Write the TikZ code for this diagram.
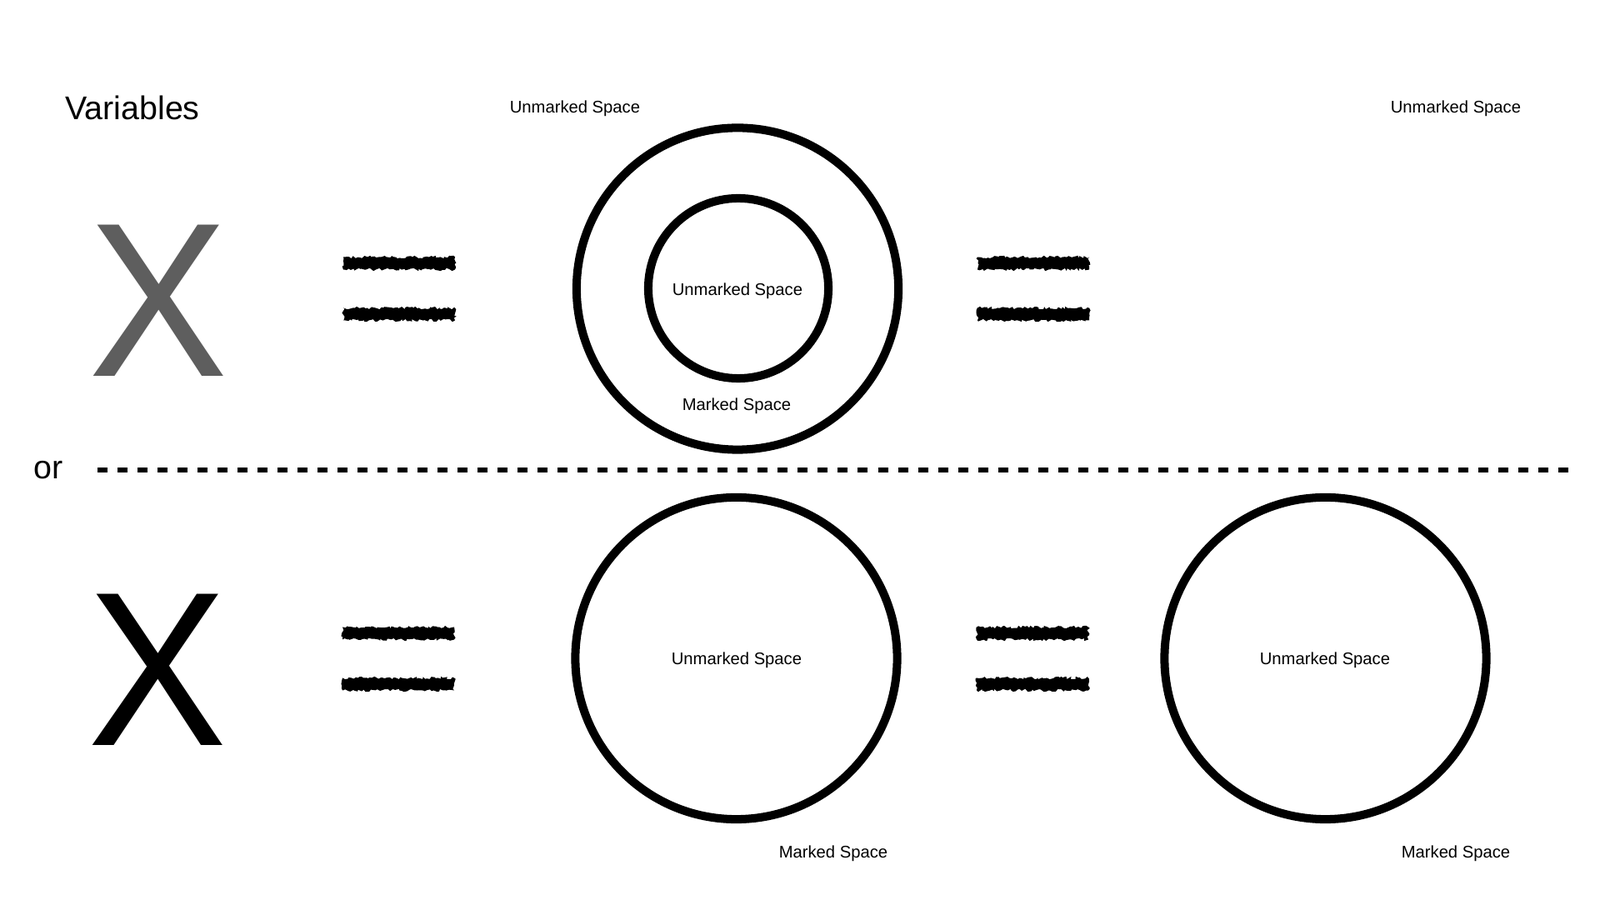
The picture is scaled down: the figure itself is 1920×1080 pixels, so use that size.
\documentclass[tikz,border=0pt]{standalone}
\usepackage{fontspec}
\setmainfont{Liberation Sans}
\usetikzlibrary{decorations.pathmorphing}
\tikzset{
  x=0.01cm, y=-0.01cm, % one unit is one pixel of the slide
  ring/.style={draw, circle, line width=2.85pt, inner sep=0pt}, % the drawn circles
  label/.style={font=\fontsize{5.75}{7}\selectfont, inner sep=0pt}, % small space names
  big/.style={font=\fontsize{11.2}{13}\selectfont, inner sep=0pt},
  bigX/.style={font=\fontsize{75}{75}\selectfont, inner sep=0pt, xscale=0.95},
  roughEq/.pic={
    % two hand drawn bars
    \foreach \dy in {-30.5, 30.5}
      \fill[decorate, decoration={random steps, segment length=0.7pt, amplitude=0.5pt}]
        (-67,\dy-7.5) rectangle (67,\dy+7.5);
  },
}
\begin{document}
\begin{tikzpicture}
  \useasboundingbox (0,0) rectangle (1920,1080);

  \node[big] (title) at (159,129) {Variables};
  \node[big] (or) at (58.5,564) {or};
  \node[bigX, text=black!63] (xTop) at (190.5,361) {X};
  \node[bigX] (xBottom) at (189.5,804) {X};

  % upper line: X = nested circles = nothing
  \node[label] (unTopLeft) at (690,130.5) {Unmarked Space};
  \node[label] (unTopRight) at (1747,130.5) {Unmarked Space};
  \node[ring, minimum size=3.86cm] (outerTop) at (885,346.5) {};
  \node[ring, minimum size=2.16cm, label] (innerTop) at (886,346) {};
  \node[label] (unInner) at (885,349.5) {Unmarked Space};
  \node[label] (markTop) at (884,487) {Marked Space};
  \pic at (479,346.5) {roughEq};
  \pic at (1240,346.5) {roughEq};

  % dividing line
  \coordinate (cutL) at (117,564);
  \coordinate (cutR) at (1882,564);
  \draw[line width=1.7pt, dash pattern=on 0.12cm off 0.12cm] (cutL) -- (cutR);

  % lower line: X = circle = circle
  \node[ring, minimum size=3.86cm] (leftBottom) at (883.5,790) {};
  \node[ring, minimum size=3.86cm] (rightBottom) at (1590.5,790) {};
  \node[label] (unLeft) at (884,792.5) {Unmarked Space};
  \node[label] (unRight) at (1590,792.5) {Unmarked Space};
  \node[label] (markLeft) at (1000,1024) {Marked Space};
  \node[label] (markRight) at (1747,1024) {Marked Space};
  \pic at (478,790.5) {roughEq};
  \pic at (1239,790.5) {roughEq};
\end{tikzpicture}
\end{document}
